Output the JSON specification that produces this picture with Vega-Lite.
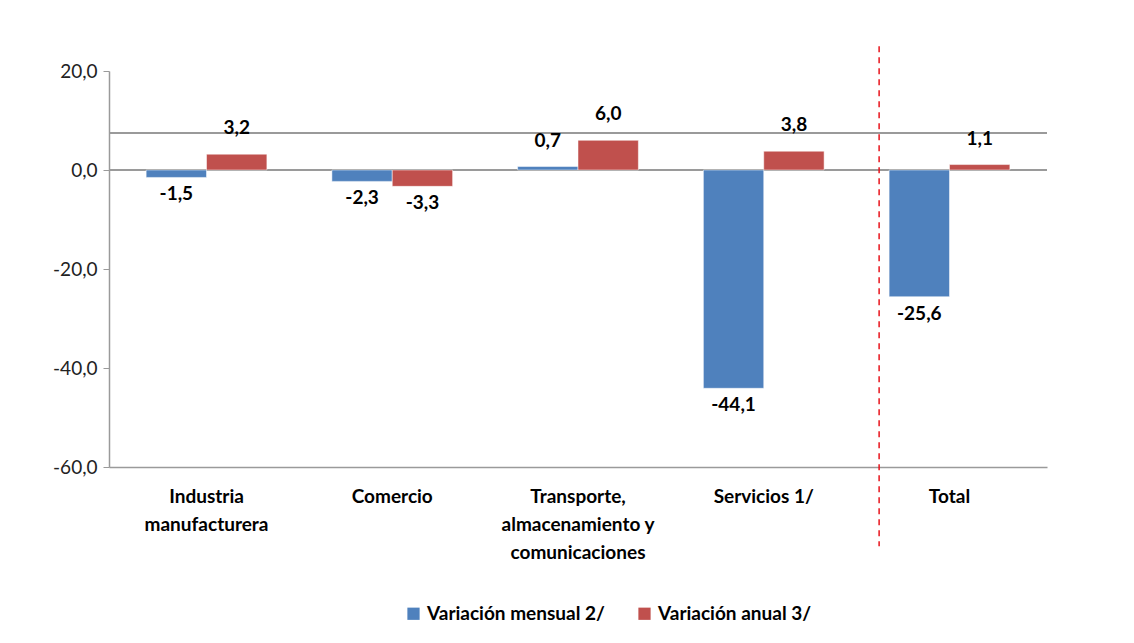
{
  "$schema": "https://vega.github.io/schema/vega-lite/v6.json",
  "width": 938,
  "height": 396,
  "autosize": {"type": "pad"},
  "padding": {"left": 52, "top": 45, "right": 60, "bottom": 20},
  "background": "white",
  "config": {
    "locale": {"number": {"decimal": ",", "thousands": ".", "grouping": [3], "currency": ["", ""], "minus": "-"}},
    "view": {"stroke": null},
    "font": "Lato"
  },
  "data": {
    "values": [
      {"cat": "Industria manufacturera", "serie": "Variación mensual 2/", "valor": -1.5},
      {"cat": "Industria manufacturera", "serie": "Variación anual 3/", "valor": 3.2},
      {"cat": "Comercio", "serie": "Variación mensual 2/", "valor": -2.3},
      {"cat": "Comercio", "serie": "Variación anual 3/", "valor": -3.3},
      {"cat": "Transporte, almacenamiento y comunicaciones", "serie": "Variación mensual 2/", "valor": 0.7},
      {"cat": "Transporte, almacenamiento y comunicaciones", "serie": "Variación anual 3/", "valor": 6.0},
      {"cat": "Servicios 1/", "serie": "Variación mensual 2/", "valor": -44.1},
      {"cat": "Servicios 1/", "serie": "Variación anual 3/", "valor": 3.8},
      {"cat": "Total", "serie": "Variación mensual 2/", "valor": -25.6},
      {"cat": "Total", "serie": "Variación anual 3/", "valor": 1.1}
    ]
  },
  "layer": [
    {
      "mark": {"type": "rule", "color": "#9a9a9a", "strokeWidth": 1.5},
      "encoding": {"y": {"datum": 7.5, "type": "quantitative"}}
    },
    {
      "mark": {"type": "rule", "color": "#9a9a9a", "strokeWidth": 1.5},
      "encoding": {"y": {"datum": 0, "type": "quantitative"}}
    },
    {
      "mark": {"type": "bar", "stroke": "white", "strokeWidth": 0.5},
      "encoding": {
        "x": {
          "field": "cat", "type": "nominal", "sort": null,
          "scale": {"paddingInner": 0.35},
          "axis": {
            "title": null, "labelAngle": 0, "ticks": false, "domain": true, "domainColor": "#9a9a9a", "domainWidth": 1.5,
            "labelFont": "Lato", "labelFontSize": 19, "labelFontWeight": "bold", "labelColor": "#000000",
            "labelPadding": 20, "labelLineHeight": 28, "labelLimit": 300,
            "labelExpr": "datum.value == 'Industria manufacturera' ? ['Industria', 'manufacturera'] : datum.value == 'Transporte, almacenamiento y comunicaciones' ? ['Transporte,', 'almacenamiento y', 'comunicaciones'] : datum.value"
          }
        },
        "xOffset": {"field": "serie", "type": "nominal", "sort": ["Variación mensual 2/", "Variación anual 3/"]},
        "y": {
          "field": "valor", "type": "quantitative",
          "scale": {"domain": [-60, 20], "nice": false, "zero": false},
          "axis": {
            "title": null, "values": [-60, -40, -20, 0, 20], "format": ".1f", "grid": false,
            "domainColor": "#9a9a9a", "domainWidth": 1.5, "tickColor": "#9a9a9a", "tickSize": 6,
            "labelFont": "Lato", "labelFontSize": 19, "labelColor": "#222222", "labelPadding": 6
          }
        },
        "color": {
          "field": "serie", "type": "nominal",
          "scale": {"domain": ["Variación mensual 2/", "Variación anual 3/"], "range": ["#4F81BD", "#C0504D"]},
          "legend": {
            "title": null, "orient": "none", "legendX": 295, "legendY": 533, "direction": "horizontal",
            "symbolType": "square", "symbolSize": 150, "symbolStrokeWidth": 0,
            "labelFont": "Lato", "labelFontSize": 19, "labelFontWeight": "bold", "labelColor": "#000000",
            "columnPadding": 30, "labelLimit": 300
          }
        }
      }
    },
    {
      "transform": [{"filter": "datum.valor >= 0"}],
      "mark": {"type": "text", "baseline": "bottom", "dy": -16, "fontSize": 19, "fontWeight": "bold", "font": "Lato", "color": "#000000"},
      "encoding": {
        "x": {"field": "cat", "type": "nominal", "sort": null},
        "xOffset": {"field": "serie", "type": "nominal", "sort": ["Variación mensual 2/", "Variación anual 3/"]},
        "y": {"field": "valor", "type": "quantitative"},
        "text": {"field": "valor", "type": "quantitative", "format": ".1f"}
      }
    },
    {
      "transform": [{"filter": "datum.valor < 0"}],
      "mark": {"type": "text", "baseline": "top", "dy": 8, "fontSize": 19, "fontWeight": "bold", "font": "Lato", "color": "#000000"},
      "encoding": {
        "x": {"field": "cat", "type": "nominal", "sort": null},
        "xOffset": {"field": "serie", "type": "nominal", "sort": ["Variación mensual 2/", "Variación anual 3/"]},
        "y": {"field": "valor", "type": "quantitative"},
        "text": {"field": "valor", "type": "quantitative", "format": ".1f"}
      }
    },
    {
      "transform": [{"filter": "datum.cat == 'Total' && datum.serie == 'Variación mensual 2/'"}],
      "mark": {"type": "rule", "color": "#e8141c", "strokeDash": [6, 5], "strokeWidth": 1.5, "xOffset": -10},
      "encoding": {
        "x": {"field": "cat", "type": "nominal", "sort": null, "bandPosition": 0},
        "y": {"datum": 25, "type": "quantitative"},
        "y2": {"datum": -76}
      }
    }
  ]
}
